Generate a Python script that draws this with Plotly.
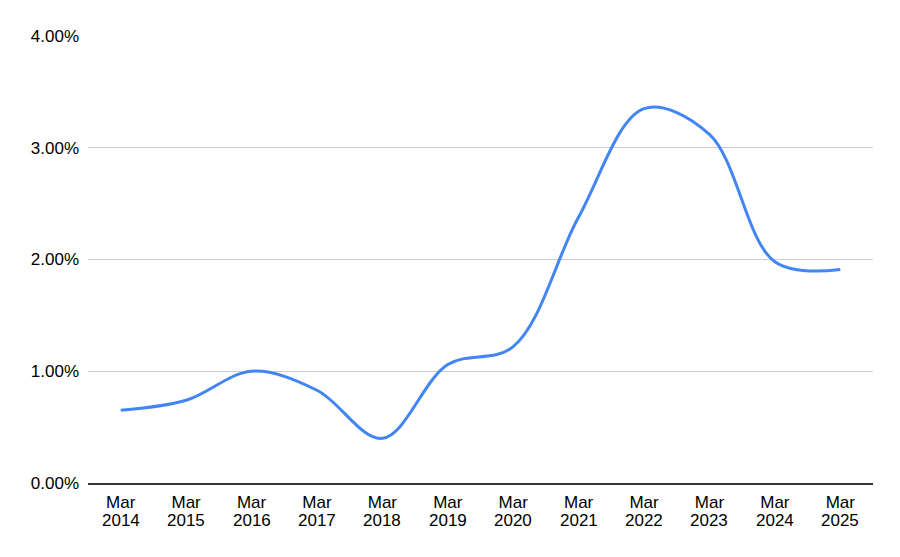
import plotly.graph_objects as go

categories = ["Mar 2014", "Mar 2015", "Mar 2016", "Mar 2017", "Mar 2018", "Mar 2019",
              "Mar 2020", "Mar 2021", "Mar 2022", "Mar 2023", "Mar 2024", "Mar 2025"]
months = ["Mar"] * 12
years = ["2014", "2015", "2016", "2017", "2018", "2019",
         "2020", "2021", "2022", "2023", "2024", "2025"]
values = [0.0065, 0.0074, 0.0100, 0.0083, 0.0040, 0.0106,
          0.0122, 0.0238, 0.0335, 0.0312, 0.0198, 0.0191]
y_ticks = [0, 0.01, 0.02, 0.03, 0.04]
y_tick_labels = ["0.00%", "1.00%", "2.00%", "3.00%", "4.00%"]

FONT = "Liberation Sans, Arial, sans-serif"

fig = go.Figure(go.Scatter(
    x=categories, y=values, mode="lines",
    line=dict(color="#4285F4", width=3, shape="spline", smoothing=1.0),
    showlegend=False, hoverinfo="skip",
))

annotations = [
    dict(x=c, y=0, xref="x", yref="y", text=yr, showarrow=False,
         yanchor="top", yshift=-27, borderpad=0,
         font=dict(family=FONT, size=17, color="#000"))
    for c, yr in zip(categories, years)
]

fig.update_layout(
    width=884, height=541,
    margin=dict(l=80, r=19, t=28, b=66),
    paper_bgcolor="white", plot_bgcolor="white",
    font=dict(family=FONT, size=17, color="#000"),
    annotations=annotations,
    xaxis=dict(type="category", showgrid=False, showline=True, linecolor="#333", linewidth=1.5,
               range=[-0.5, 11.5], ticks="", tickvals=categories, ticktext=months,
               ticklabelstandoff=3, tickfont=dict(size=17)),
    yaxis=dict(range=[0, 0.04], tickvals=y_ticks, ticktext=y_tick_labels,
               showgrid=True, gridcolor="#cccccc", gridwidth=1, zeroline=False,
               ticks="", ticklabelstandoff=8, tickfont=dict(size=17)),
)

fig.write_html("out.html")
